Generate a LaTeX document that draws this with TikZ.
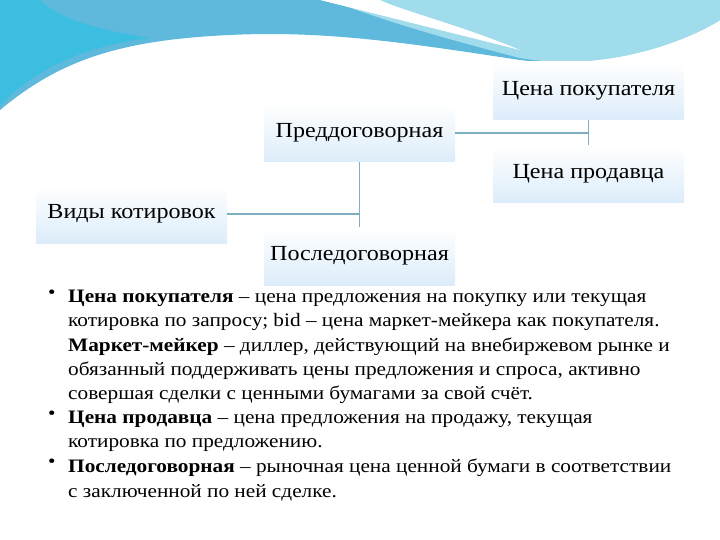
\documentclass[tikz,border=0pt]{standalone}
\usepackage{fontspec}
\setmainfont{Liberation Serif}[FakeStretch=1.12]
\definecolor{waveA}{RGB}{95,185,220}
\definecolor{waveB}{RGB}{160,220,235}
\definecolor{waveC}{RGB}{60,190,225}
\definecolor{lineC}{RGB}{125,175,195}
\definecolor{boxM}{RGB}{205,228,248}
\begin{document}
\begin{tikzpicture}[x=1pt,y=-1pt,
  box/.style={minimum width=191pt,minimum height=58pt,inner sep=0pt,font=\fontsize{21.5}{24}\selectfont,
    top color=white,bottom color=boxM!70,middle color=boxM!35},
  conn/.style={draw=lineC,line width=1.8pt},
  body/.style={anchor=north west,align=left,inner sep=0pt,font=\fontsize{19}{24.2}\selectfont}]
\useasboundingbox (0,0) rectangle (720,540);
\fill[white] (0,0) rectangle (720,540);
% wave
\fill[waveA] (0,0) -- (0,110) .. controls (60,60) and (120,40) .. (230,35)
  .. controls (330,30) and (420,45) .. (520,60) .. controls (600,70) and (680,45) .. (720,20) -- (720,0) -- cycle;
\fill[waveB] (330,0) .. controls (380,20) and (450,40) .. (520,58) .. controls (600,72) and (680,45) .. (720,20) -- (720,0) -- cycle;
\fill[white] (320,0) .. controls (380,15) and (440,30) .. (520,50) .. controls (460,25) and (400,10) .. (380,0) -- cycle;
\fill[waveC] (0,0) -- (0,105) .. controls (40,65) and (90,45) .. (150,38) .. controls (100,30) and (60,20) .. (40,0) -- cycle;
% boxes
\node[box] (cp) at (588.5,91) {Цена покупателя};
\node[box] (pre) at (359.5,133) {Преддоговорная};
\node[box] (cs) at (588.5,174) {Цена продавца};
\node[box] (vk) at (131.5,214) {Виды котировок};
\node[box] (post) at (359.5,256) {Последоговорная};
\draw[conn] (vk.east) -- (vk.east -| pre.south);
\draw[conn] (pre.south) -- (post.north);
\draw[conn] (pre.east) -- (pre.east -| cp.south);
\draw[conn] (cp.south) -- (cs.north);
% bullets
\node[body] (b1) at (48,290) {•};
\node[body] (t1) at (68,290) {\textbf{Цена покупателя} – цена предложения на покупку или текущая\\
котировка по запросу; bid – цена маркет-мейкера как покупателя.\\
\textbf{Маркет-мейкер} – диллер, действующий на внебиржевом рынке и\\
обязанный поддерживать цены предложения и спроса, активно\\
совершая сделки с ценными бумагами за свой счёт.};
\node[body] (b2) at (48,411) {•};
\node[body] (t2) at (68,411) {\textbf{Цена продавца} – цена предложения на продажу, текущая\\
котировка по предложению.};
\node[body] (b3) at (48,459) {•};
\node[body] (t3) at (68,459) {\textbf{Последоговорная} – рыночная цена ценной бумаги в соответствии\\
с заключенной по ней сделке.};
\end{tikzpicture}
\end{document}
